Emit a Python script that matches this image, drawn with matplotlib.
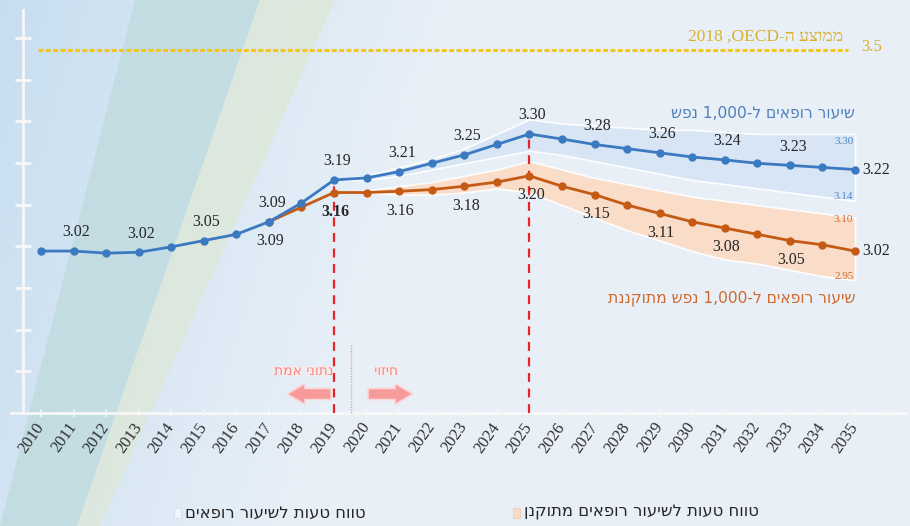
import re
import numpy as np
import matplotlib
matplotlib.use("Agg")
import matplotlib.pyplot as plt
from matplotlib.patches import Polygon, FancyArrow, Rectangle
import matplotlib.patheffects as pe

# ---------------- data ----------------
years = list(range(2010, 2036))
rate = [3.02, 3.02, 3.015, 3.017, 3.03, 3.045, 3.06, 3.09, 3.135, 3.19,
        3.195, 3.21, 3.23, 3.25, 3.275, 3.30, 3.288, 3.275, 3.265, 3.255,
        3.245, 3.238, 3.23, 3.225, 3.22, 3.215]
adj_years = list(range(2017, 2036))
adj_rate = [3.09, 3.125, 3.16, 3.16, 3.163, 3.167, 3.175, 3.185, 3.20, 3.175,
            3.155, 3.13, 3.11, 3.09, 3.075, 3.06, 3.045, 3.035, 3.02]

band_years = list(range(2019, 2036))
rate_hi = [3.19, 3.20, 3.22, 3.24, 3.265, 3.30, 3.335, 3.325, 3.32, 3.315,
           3.31, 3.31, 3.305, 3.30, 3.30, 3.30, 3.30]
rate_lo = [3.19, 3.19, 3.20, 3.215, 3.23, 3.245, 3.26, 3.25, 3.235, 3.22,
           3.205, 3.19, 3.18, 3.17, 3.16, 3.15, 3.14]
adj_hi = [3.16, 3.165, 3.175, 3.185, 3.20, 3.215, 3.235, 3.215, 3.195, 3.18,
          3.165, 3.15, 3.14, 3.13, 3.12, 3.11, 3.10]
adj_lo = [3.16, 3.16, 3.155, 3.155, 3.16, 3.17, 3.16, 3.13, 3.10, 3.07,
          3.045, 3.02, 3.00, 2.99, 2.975, 2.96, 2.95]

rate_labels = {2011: "3.02", 2013: "3.02", 2015: "3.05", 2017: "3.09", 2019: "3.19",
               2021: "3.21", 2023: "3.25", 2025: "3.30", 2027: "3.28", 2029: "3.26",
               2031: "3.24", 2033: "3.23"}
adj_labels = {2017: "3.09", 2019: "3.16", 2021: "3.16", 2023: "3.18", 2025: "3.20",
              2027: "3.15", 2029: "3.11", 2031: "3.08", 2033: "3.05"}
end_rate_label = "3.22"
end_adj_label = "3.02"
band_end_labels = {"rate_hi": "3.30", "rate_lo": "3.14", "adj_hi": "3.10", "adj_lo": "2.95"}

oecd_value = 3.5
oecd_text = "ממוצע ה-OECD, 2018"
rate_title = "שיעור רופאים ל-1,000 נפש"
adj_title = "שיעור רופאים ל-1,000 נפש מתוקננת"
legend1 = "טווח טעות לשיעור רופאים"
legend2 = "טווח טעות לשיעור רופאים מתוקנן"
actual_text = "נתוני אמת"
forecast_text = "חיזוי"
split_years = [2019, 2025]


def rtl(s):
    """Convert logical-order Hebrew to visual order for LTR rendering."""
    tokens = re.findall(r'[A-Za-z0-9]+(?:[.,][0-9]+)*|[^A-Za-z0-9]+', s)
    out = []
    for t in reversed(tokens):
        if re.match(r'[A-Za-z0-9]', t):
            out.append(t)
        else:
            out.append(t[::-1])
    return ''.join(out)


FAM = ['Liberation Serif', 'DejaVu Sans']
HEB = ['DejaVu Sans']
plt.rcParams['font.family'] = FAM

W, H = 910, 526
fig = plt.figure(figsize=(9.10, 5.26), dpi=100)

# ---------------- background ----------------
bg = fig.add_axes([0, 0, 1, 1], zorder=-10)
bg.set_xlim(0, W)
bg.set_ylim(H, 0)
bg.axis('off')
xx = np.linspace(0, 1, 200)[None, :]
yy = np.linspace(0, 1, 120)[:, None]
c_left = np.array([0.78, 0.87, 0.94])
c_right = np.array([0.91, 0.94, 0.97])
t = np.clip(xx * 2.0 + yy * 0.35, 0, 1)[..., None]
img = c_left * (1 - t) + c_right * t
bg.imshow(img, extent=[0, W, H, 0], aspect='auto', zorder=0)
bg.add_patch(Polygon([(135, 0), (260, 0), (77, 526), (0, 526)], closed=True,
                     facecolor='#bcdadc', edgecolor='none', alpha=0.7, zorder=1))
bg.add_patch(Polygon([(260, 0), (335, 0), (100, 526), (77, 526)], closed=True,
                     facecolor='#dde8d8', edgecolor='none', alpha=0.8, zorder=1))

# ---------------- main axes ----------------
ax = fig.add_axes([0, 0, 1, 1])
ax.set_facecolor('none')
px_per_year = 32.56
x0 = 2010 - 41 / px_per_year
x1 = 2010 + (W - 41) / px_per_year
ppu = 418.0
ytop = 3.30 + 134 / ppu
ybot = 3.30 - (H - 134) / ppu
ax.set_xlim(x0, x1)
ax.set_ylim(ybot, ytop)

yaxis_x = 2010 - 18 / px_per_year
xaxis_y = 3.30 - (413 - 134) / ppu
for s in ['top', 'right']:
    ax.spines[s].set_visible(False)
ax.spines['left'].set_position(('data', yaxis_x))
ax.spines['bottom'].set_position(('data', xaxis_y))
ax.spines['left'].set_bounds(xaxis_y, 3.30 + (134 - 10) / ppu)
ax.spines['bottom'].set_bounds(2010 - 30 / px_per_year, 2010 + (905 - 41) / px_per_year)
for s in ['left', 'bottom']:
    ax.spines[s].set_color('#f7f7f7')
    ax.spines[s].set_linewidth(2)

yt = [xaxis_y + 0.0997 * k for k in range(1, 10)]
ax.set_yticks(yt)
ax.set_yticklabels([])
ax.tick_params(axis='y', colors='#f7f7f7', direction='inout', length=12, width=2)
ax.set_xticks(years + [2036])
ax.set_xticklabels([str(y) for y in years] + [''])
ax.tick_params(axis='x', colors='#f4f4f4', direction='inout', length=6, width=1.2,
               pad=5, labelcolor='#2e2e2e', labelsize=12)
for lbl in ax.get_xticklabels():
    lbl.set_rotation(55)
    lbl.set_rotation_mode('anchor')
    lbl.set_ha('right')
    lbl.set_va('center')

BLUE = '#3b79c1'
ORANGE = '#c55a15'

# bands
ax.fill_between(band_years, rate_lo, rate_hi, facecolor='#d8e5f4', edgecolor='white',
                linewidth=1.2, alpha=0.95, zorder=2)
ax.fill_between(band_years, adj_lo, adj_hi, facecolor='#fbdcc6', edgecolor='white',
                linewidth=1.2, alpha=0.95, zorder=2)

# OECD line
ax.plot([2010 - 3 / px_per_year, 2010 + (848 - 41) / px_per_year], [oecd_value] * 2,
        color='#f2c521', linestyle=(0, (1.6, 0.8)), linewidth=2.2, zorder=3)
ax.text(2010 + (861 - 41) / px_per_year, oecd_value + 0.008, "3.5", color='#d8b12b',
        fontsize=12, ha='left', va='center', family=FAM)
ax.text(2010 + (843 - 41) / px_per_year, 3.30 + (134 - 37) / ppu, rtl(oecd_text),
        color='#d8b12b', fontsize=12.5, ha='right', va='center', family=FAM)

# red dashed split lines
ax.plot([split_years[0]] * 2, [xaxis_y, rate[years.index(split_years[0])] - 0.01],
        color='#e8232a', linestyle=(0, (4, 3)), linewidth=1.6, zorder=4)
ax.plot([split_years[1]] * 2, [xaxis_y, rate[years.index(split_years[1])]],
        color='#e8232a', linestyle=(0, (4, 3)), linewidth=1.6, zorder=4)
ax.plot([2019.52] * 2, [xaxis_y, xaxis_y + 0.165], color='#f1a0a0',
        linestyle=(0, (1, 1)), linewidth=1, zorder=4)

# lines
ax.plot(years, rate, color=BLUE, linewidth=2, marker='o', markersize=5, zorder=6)
ax.plot(adj_years, adj_rate, color=ORANGE, linewidth=2, marker='o', markersize=5, zorder=5)

for y, s in rate_labels.items():
    v = rate[years.index(y)]
    ax.annotate(s, (y, v), xytext=(2, 13.5), textcoords='offset points', ha='center',
                va='center', fontsize=11.5, color='#262626', zorder=7)
for y, s in adj_labels.items():
    v = adj_rate[adj_years.index(y)]
    ax.annotate(s, (y, v), xytext=(1, -14), textcoords='offset points', ha='center',
                va='center', fontsize=11.5, color='#262626', zorder=7,
                fontweight='bold' if y == 2019 else 'normal')
ax.annotate(end_rate_label, (years[-1], rate[-1]), xytext=(5, 0), textcoords='offset points',
            ha='left', va='center', fontsize=11.5, color='#262626')
ax.annotate(end_adj_label, (adj_years[-1], adj_rate[-1]), xytext=(5, 0),
            textcoords='offset points', ha='left', va='center', fontsize=11.5, color='#262626')

# band end labels
bx = years[-1] - 0.05
ax.text(bx, rate_hi[-1] - 0.018, band_end_labels['rate_hi'], color='#4f86c6', fontsize=8,
        ha='right', va='center')
ax.text(bx, rate_lo[-1] + 0.01, band_end_labels['rate_lo'], color='#4f86c6', fontsize=8,
        ha='right', va='center')
ax.text(bx, adj_hi[-1] - 0.004, band_end_labels['adj_hi'], color='#d0692a', fontsize=8,
        ha='right', va='center')
ax.text(bx, adj_lo[-1] + 0.008, band_end_labels['adj_lo'], color='#d0692a', fontsize=8,
        ha='right', va='center')

# series titles
ax.text(years[-1], 3.30 + (134 - 113) / ppu, rtl(rate_title), color='#4f81bd',
        fontsize=11.2, ha='right', va='center', family=HEB)
ax.text(years[-1], 3.30 + (134 - 298) / ppu, rtl(adj_title), color='#d06a2c',
        fontsize=11.2, ha='right', va='center', family=HEB)

# arrows and annotations (pixel coords on background)
bg.add_patch(FancyArrow(331, 394, -26, 0, width=11, head_width=21, head_length=18,
                        length_includes_head=False, facecolor='#f79a9a',
                        edgecolor='#fcd6d6', linewidth=1.2, zorder=5))
bg.add_patch(FancyArrow(368, 394, 27, 0, width=11, head_width=21, head_length=18,
                        length_includes_head=False, facecolor='#f79a9a',
                        edgecolor='#fcd6d6', linewidth=1.2, zorder=5))
eff = [pe.withStroke(linewidth=2, foreground='#fbeaea')]
bg.text(333, 371, rtl(actual_text), color='#f08a8a', fontsize=10, ha='right', va='center',
        family=HEB, zorder=5, path_effects=eff)
bg.text(386, 371, rtl(forecast_text), color='#f08a8a', fontsize=10, ha='center', va='center',
        family=HEB, zorder=5, path_effects=eff)

# legend (manual)
bg.add_patch(Rectangle((174, 508), 7, 10, facecolor='#f3f6fb', edgecolor='#d8e2ee',
                       linewidth=0.8, zorder=5))
bg.text(185, 513, rtl(legend1), color='#262626', fontsize=11.8, ha='left', va='center',
        family=HEB, zorder=5)
bg.add_patch(Rectangle((513, 508), 7, 10, facecolor='#f8dcc4', edgecolor='#eed2ba',
                       linewidth=0.8, zorder=5))
bg.text(524, 513, rtl(legend2), color='#262626', fontsize=11.8, ha='left', va='center',
        family=HEB, zorder=5)

fig.savefig('out.png', dpi=100)
